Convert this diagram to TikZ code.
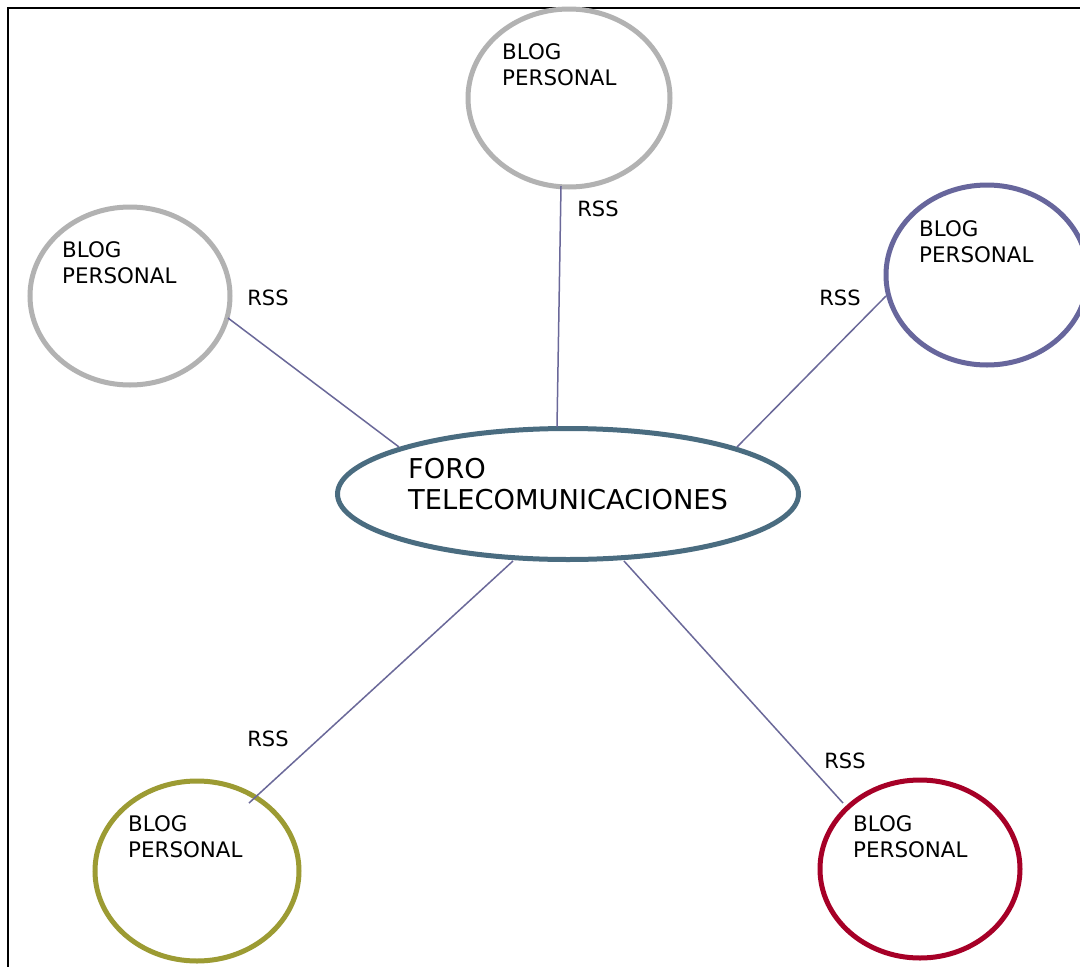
\documentclass[tikz,border=0pt]{standalone}
\usepackage{fontspec}
\setmainfont{DejaVu Sans}
\usetikzlibrary{shapes.geometric}
\definecolor{cgray}{HTML}{B2B2B2}
\definecolor{cpurple}{HTML}{67669C}
\definecolor{cteal}{HTML}{4A6C80}
\definecolor{colive}{HTML}{9C9B33}
\definecolor{cred}{HTML}{A60027}
\definecolor{cline}{HTML}{6A6899}
\tikzset{
  blob/.style={draw, ellipse, line width=5pt, inner sep=0pt},
  blogtxt/.style={anchor=north west, align=left, inner sep=0pt, font=\fontsize{21.4}{26}\selectfont},
  rss/.style={inner sep=0pt, font=\fontsize{21}{24}\selectfont},
  conn/.style={draw=cline, line width=1.5pt},
}
\begin{document}
\begin{tikzpicture}[x=1pt,y=-1pt]
\useasboundingbox (0,0) rectangle (1080,967);
\clip (0,0) rectangle (1080,967);
\fill[white] (0,0) rectangle (1080,967);
\draw[line width=2pt] (8,967) -- (8,8) -- (1080,8);
% ellipses
\node[blob, draw=cteal, minimum width=461pt, minimum height=131pt] (foro) at (568,494) {};
\node[blob, draw=cgray, minimum width=202pt, minimum height=178pt] (btop) at (569,98) {};
\node[blob, draw=cgray, minimum width=200pt, minimum height=178pt] (bleft) at (130,296) {};
\node[blob, draw=cpurple, minimum width=202pt, minimum height=180pt] (bright) at (987,275) {};
\node[blob, draw=colive, minimum width=204pt, minimum height=180pt] (bbl) at (197,871) {};
\node[blob, draw=cred, minimum width=200pt, minimum height=178pt] (bbr) at (920,869) {};
% texts
\node[anchor=north west, align=left, inner sep=0pt, font=\fontsize{27.3}{31}\selectfont] (tforo) at (408,458) {FORO\\TELECOMUNICACIONES};
\node[blogtxt] (ttop) at (502,43) {BLOG\\PERSONAL};
\node[blogtxt] (tleft) at (62,241) {BLOG\\PERSONAL};
\node[blogtxt] (tright) at (919,220) {BLOG\\PERSONAL};
\node[blogtxt] (tbl) at (128,815) {BLOG\\PERSONAL};
\node[blogtxt] (tbr) at (853,815) {BLOG\\PERSONAL};
% connector endpoints
\coordinate (e1a) at (561,186); \coordinate (e1b) at (557,427);
\coordinate (e2a) at (228,318); \coordinate (e2b) at (399,447);
\coordinate (e3a) at (886,296); \coordinate (e3b) at (737,447);
\coordinate (e4a) at (513,561); \coordinate (e4b) at (249,803);
\coordinate (e5a) at (624,561); \coordinate (e5b) at (843,803);
\draw[conn] (e1a) -- (e1b);
\draw[conn] (e2a) -- (e2b);
\draw[conn] (e3a) -- (e3b);
\draw[conn] (e4a) -- (e4b);
\draw[conn] (e5a) -- (e5b);
% RSS labels
\node[rss] (r1) at (598,209) {RSS};
\node[rss] (r2) at (268,298) {RSS};
\node[rss] (r3) at (840,298) {RSS};
\node[rss] (r4) at (268,739) {RSS};
\node[rss] (r5) at (845,761) {RSS};
\end{tikzpicture}
\end{document}
